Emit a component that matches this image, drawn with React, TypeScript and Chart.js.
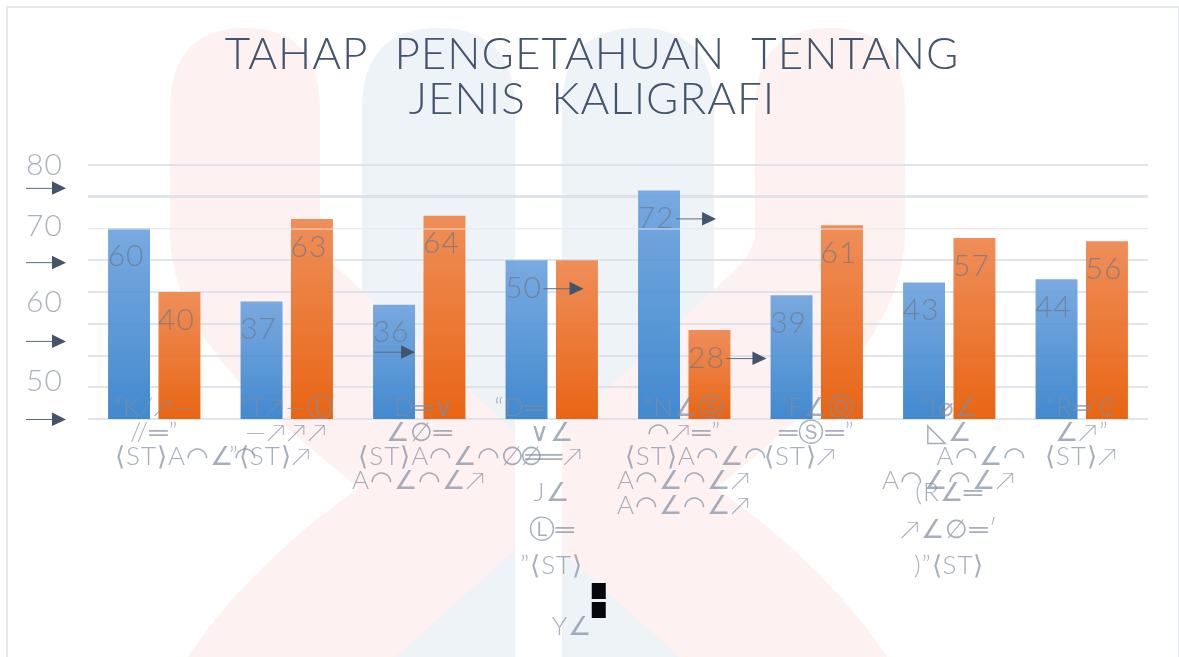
import React, { useEffect, useRef } from "react";
import { Chart, registerables } from "chart.js";

Chart.register(...registerables);

const titleLines = ["TAHAP  PENGETAHUAN  TENTANG", "JENIS  KALIGRAFI"];
const blueValues = [60, 37, 36, 50, 72, 39, 43, 44];
const orangeValues = [40, 63, 64, 50, 28, 61, 57, 56];
const orangeLabelShown = [true, true, true, false, true, true, true, true];
const blueArrows = [0, 0, 0, 1, 1, 0, 0, 0];
const orangeArrows = [0, 0, 0, 0, 1, 0, 0, 0];
const yTickValues = [0, 11.9, 24.6, 36.7, 49.4, 60.8, 72.8, 80];
const yTickLabels = ["", "50", "", "60", "", "70", "", "80"];
const yArrowValues = [0, 24.6, 49.4, 72.8];

const categories: string[][] = [
  ["“K∕↗—", "", "//═”", "", "        ⟨ST⟩A◠∠◠"],
  ["“T↗—Ⓛ", "", "—↗↗↗", "", "”⟨ST⟩↗    "],
  ["“D═∨", "", "∠∅═", "", "        ⟨ST⟩A◠∠◠∅═", "", "A◠∠◠∠↗"],
  ["“D═        ", "", "∨∠", "", "∅═↗", "", "", "J∠", "", "", "Ⓛ═", "", "", "”⟨ST⟩", "", "", "", "", "     Y∠"],
  ["“N∠Ⓢ", "", "◠↗═”", "", "   ⟨ST⟩A◠∠◠", "", "A◠∠◠∠↗", "", "A◠∠◠∠↗"],
  ["“F∠Ⓞ", "", "═Ⓢ═”", "", "⟨ST⟩↗    "],
  ["“I⌀∠", "", "◺∠", "", "        A◠∠◠", "", "A◠∠◠∠↗", "(R∠═", "", "", "↗∠∅═′", "", "", ")”⟨ST⟩"],
  ["“R═’₵", "", "∠↗”", "", "⟨ST⟩↗"],
];

function gradient(chart: any, value: number, top: string, bottom: string) {
  const y = chart.scales?.y;
  if (!y || !chart.chartArea) return bottom;
  const g = chart.ctx.createLinearGradient(0, y.getPixelForValue(value), 0, y.getPixelForValue(0));
  g.addColorStop(0, top);
  g.addColorStop(1, bottom);
  return g;
}

const decor = {
  id: "decor",
  beforeDraw(chart: any) {
    chart.ctx.letterSpacing = "1px";
  },
  afterDatasetsDraw(chart: any) {
    const { ctx, scales } = chart;
    const y60 = scales.y.getPixelForValue(60);
    ctx.save();
    ctx.strokeStyle = "rgba(235,236,240,0.85)";
    ctx.lineWidth = 1;
    ctx.beginPath();
    ctx.moveTo(chart.chartArea.left, y60 + 0.5);
    ctx.lineTo(chart.chartArea.right, y60 + 0.5);
    ctx.stroke();

    const arrow = (x0: number, x1: number, y: number) => {
      ctx.strokeStyle = "#5a6a80";
      ctx.fillStyle = "#44546a";
      ctx.lineWidth = 1;
      ctx.beginPath();
      ctx.moveTo(x0, y + 0.5);
      ctx.lineTo(x1 - 13, y + 0.5);
      ctx.stroke();
      ctx.beginPath();
      ctx.moveTo(x1 - 14, y - 6.5);
      ctx.lineTo(x1, y + 0.5);
      ctx.lineTo(x1 - 14, y + 7);
      ctx.closePath();
      ctx.fill();
    };

    yArrowValues.forEach((v) => arrow(26, 66, scales.y.getPixelForValue(v)));

    ctx.font = "300 30px Lato, 'Open Sans', sans-serif";
    ctx.textAlign = "center";
    ctx.textBaseline = "middle";
    chart.data.datasets.forEach((ds: any, di: number) => {
      const meta = chart.getDatasetMeta(di);
      meta.data.forEach((bar: any, i: number) => {
        if (di === 1 && !orangeLabelShown[i]) return;
        const cy = bar.y + 28;
        const cx = bar.x - 3;
        ctx.fillStyle = "rgba(105,118,135,0.7)";
        ctx.fillText(String(ds.data[i]), cx, cy);
        const hasArrow = di === 0 ? blueArrows[i] : orangeArrows[i];
        if (hasArrow) arrow(cx + 20, cx + 60, cy);
      });
    });
    // third blue bar carries its arrow below the number
    const third = chart.getDatasetMeta(0).data[2];
    arrow(third.x - 20, third.x + 21, third.y + 47);

    // two dark marks beside the fourth category's last row
    const cx = scales.x.getPixelForTick(3) + 47;
    ctx.fillStyle = "#05070c";
    const base = scales.y.getPixelForValue(0);
    ctx.fillRect(cx - 7, base + 164, 14, 16);
    ctx.fillRect(cx - 7, base + 183, 14, 16);
    ctx.restore();
  },
};

export default function App() {
  const ref = useRef<HTMLCanvasElement>(null);
  useEffect(() => {
    const chart = new Chart(ref.current as HTMLCanvasElement, {
      type: "bar",
      data: {
        labels: categories as any,
        datasets: [
          {
            label: "Blue",
            data: blueValues,
            backgroundColor: (c: any) => gradient(c.chart, c.raw ?? 0, "rgba(110,163,222,0.92)", "rgba(56,131,204,0.95)"),
            categoryPercentage: 0.761,
            barPercentage: 0.832,
          },
          {
            label: "Orange",
            data: orangeValues,
            backgroundColor: (c: any) => gradient(c.chart, c.raw ?? 0, "rgba(238,136,80,0.95)", "rgba(232,98,15,0.98)"),
            categoryPercentage: 0.761,
            barPercentage: 0.832,
          },
        ],
      },
      options: {
        animation: false,
        responsive: false,
        layout: { padding: { left: 36, right: 31, top: 0, bottom: 0 } },
        plugins: {
          legend: { display: false },
          tooltip: { enabled: false },
          title: {
            display: true,
            text: titleLines,
            color: "#44546a",
            font: { family: "Lato, 'Open Sans', sans-serif", size: 44, weight: "300" as any, lineHeight: "45px" as any },
            padding: { top: 32, bottom: 43 },
          },
        },
        scales: {
          x: {
            grid: { display: false },
            border: { display: false },
            afterFit: (s: any) => { s.height = 238; },
            ticks: {
              z: 1,
              autoSkip: false,
              maxRotation: 0,
              minRotation: 0,
              mirror: true,
              padding: 5,
              color: "rgba(130,140,158,0.7)",
              font: { family: "Lato, 'DejaVu Sans', sans-serif", size: 26, weight: "300" as any, lineHeight: "12.15px" as any },
            },
          },
          y1: {
            position: "left",
            min: 0,
            max: 80,
            afterBuildTicks: (s: any) => { s.ticks = yTickValues.map((value) => ({ value })); },
            afterFit: (s: any) => { s.width = 52; },
            grid: { display: false },
            border: { display: false },
            ticks: {
              mirror: true,
              padding: -62,
              autoSkip: false,
              callback: (_v: any, i: number) => yTickLabels[i],
              color: "rgba(150,158,172,0.8)",
              font: { family: "Lato, sans-serif", size: 30, weight: "300" as any },
            },
          },
          y: {
            position: "left",
            min: 0,
            max: 80,
            afterFit: (s: any) => { s.width = 0; },
            border: { display: false },
            grid: {
              drawTicks: false,
              color: (c: any) => (c.tick.value === 60 ? "#e6e8ed" : "rgba(214,220,230,0.75)"),
              lineWidth: (c: any) => (c.tick.value === 70 ? 3 : c.tick.value === 60 ? 1 : 2),
            },
            ticks: { display: false, stepSize: 10 },
          },
        },
      },
      plugins: [decor],
    } as any);
    return () => chart.destroy();
  }, []);

  return (
    <div style={{ position: "fixed", left: 0, top: 0, width: 1179, height: 657, overflow: "hidden", background: "#fff" }}>
      <svg width={1179} height={657} style={{ position: "absolute", left: 0, top: 0 }}>
        <path d="M362 657 V110 Q362 28 438 28 Q515 28 515 110 V657 Z" fill="#eef3f8" />
        <path d="M562 657 V110 Q562 28 638 28 Q714 28 714 110 V657 Z" fill="#eef3f8" />
        <path
          d="M170 110 Q170 28 245 28 Q320 28 320 110 V240 L332 263 L502 420 L537 452 L573 420 L743 263 L755 240 V110 Q755 28 830 28 Q905 28 905 110 V230 C905 330 825 400 716 488 C790 540 850 600 887 657 H680 L537 530 L395 657 H188 C225 600 285 540 359 488 C250 400 170 330 170 230 Z"
          fill="#fdf1f1"
        />
        <rect x={515} y={0} width={47} height={657} fill="#ffffff" />
      </svg>
      <div style={{ position: "absolute", left: 6, top: 6, width: 1170, height: 660, border: "2px solid #e4e8ee" }} />
      <canvas ref={ref} width={1179} height={657} style={{ position: "absolute", left: 0, top: 0 }} />
    </div>
  );
}
